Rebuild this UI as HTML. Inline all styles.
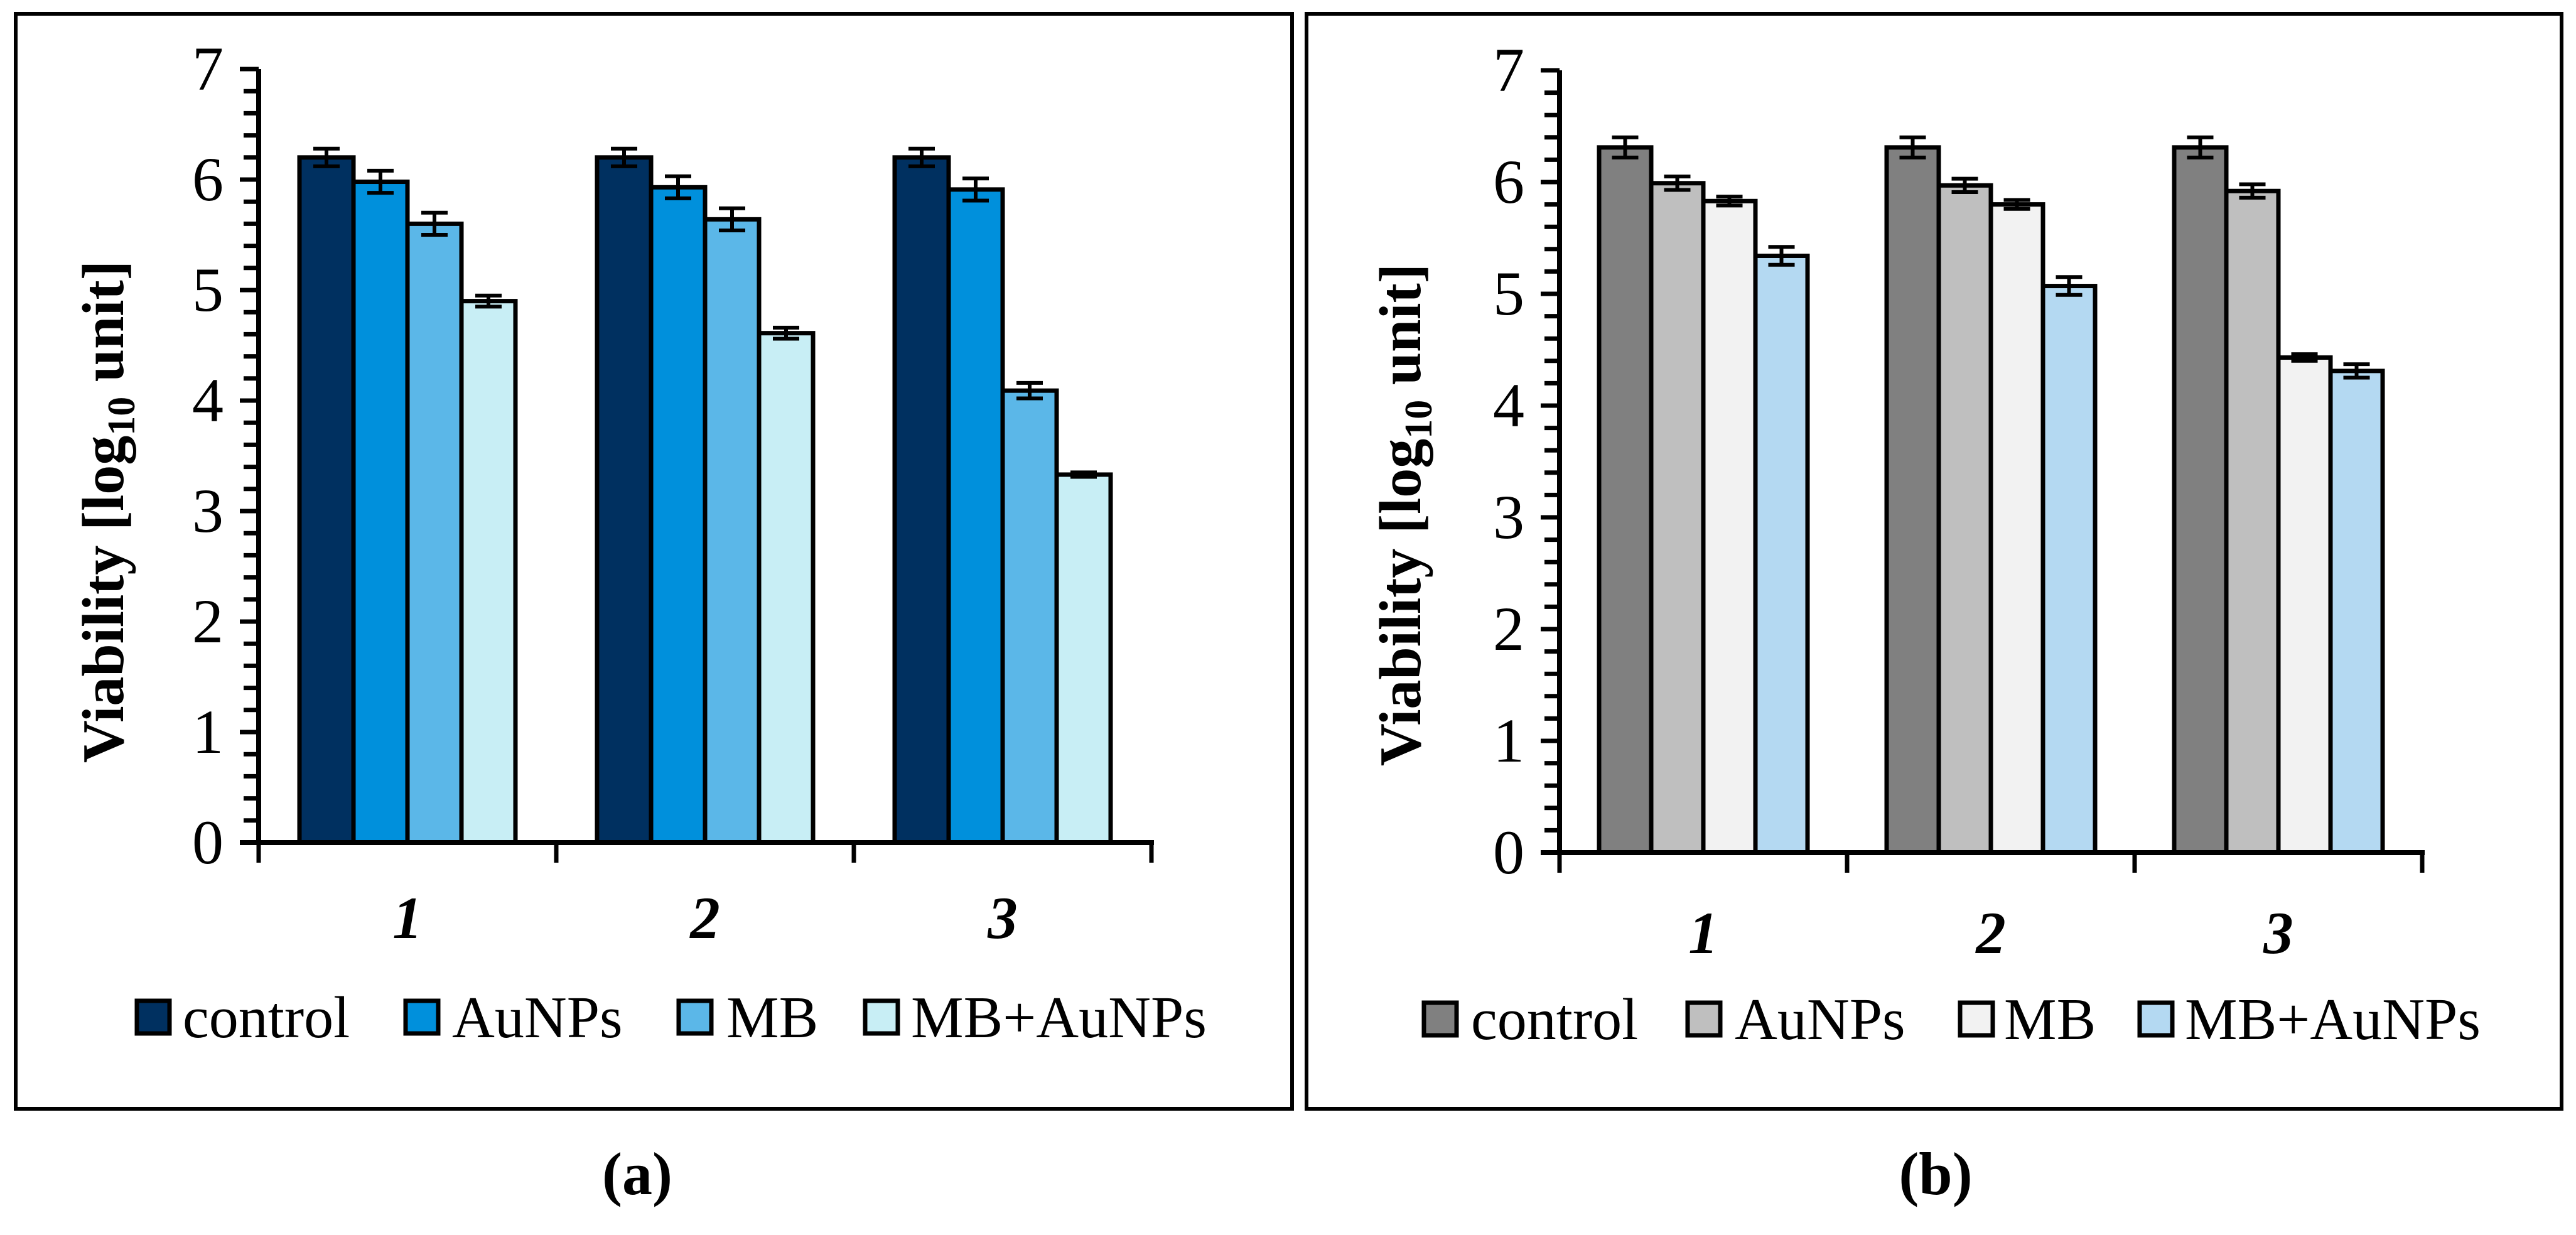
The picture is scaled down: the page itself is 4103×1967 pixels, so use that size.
<!DOCTYPE html>
<html><head><meta charset="utf-8"><style>
html,body{margin:0;padding:0;background:#fff;}
svg{display:block;font-family:"Liberation Serif",serif;}
</style></head><body>
<svg id="fig" width="4103" height="1967" viewBox="0 0 4103 1967" xmlns="http://www.w3.org/2000/svg">
<rect x="0" y="0" width="4103" height="1967" fill="#fff"/>
</svg>
<script>
const categories = ["1","2","3"];
const seriesNames = ["control","AuNPs","MB","MB+AuNPs"];
const yTicks = [0,1,2,3,4,5,6,7];
// panel (a)
const aControl = [6.20,6.20,6.20];
const aAuNPs = [5.98,5.93,5.91];
const aMB = [5.60,5.64,4.09];
const aMBAu = [4.90,4.61,3.33];
const aControlErr = [0.08,0.08,0.08];
const aAuNPsErr = [0.10,0.10,0.10];
const aMBErr = [0.10,0.10,0.07];
const aMBAuErr = [0.05,0.05,0.02];
// panel (b)
const bControl = [6.31,6.31,6.31];
const bAuNPs = [5.99,5.97,5.92];
const bMB = [5.83,5.80,4.43];
const bMBAu = [5.34,5.07,4.31];
const bControlErr = [0.09,0.09,0.09];
const bAuNPsErr = [0.06,0.06,0.06];
const bMBErr = [0.04,0.04,0.03];
const bMBAuErr = [0.08,0.08,0.06];

const NS="http://www.w3.org/2000/svg";
const svg=document.getElementById('fig');
function mk(tag,attrs,parent){const e=document.createElementNS(NS,tag);for(const k in attrs)e.setAttribute(k,attrs[k]);(parent||svg).appendChild(e);return e;}

function panel(cfg){
  const g=mk('g',{});
  
  
  const fr=mk('rect',{x:cfg.frame[0],y:cfg.frame[1],width:cfg.frame[2]-cfg.frame[0],height:cfg.frame[3]-cfg.frame[1],fill:'none',stroke:'#000','stroke-width':6},g);
  
  
  const x0=cfg.ax, y0=cfg.y0, unit=cfg.unit, cw=cfg.cw;
  const yS=v=>y0-v*unit;
  const xC=i=>x0+i*cw;
  for(let v=0;v<=7.0001;v+=0.2){
    const major=Math.abs(v-Math.round(v))<1e-6;
    const t=mk('line',{x1:x0-(major?30:24),x2:x0,y1:yS(v),y2:yS(v),stroke:'#000','stroke-width':7},g);
    
    
  }
  yTicks.forEach(v=>{
    const t=mk('text',{x:x0-56,y:yS(v)+33,'text-anchor':'end','font-size':100,fill:'#000'},g);
    t.textContent=v;
    
    
  });
  const vals=cfg.vals, errs=cfg.errs;
  const bw=cfg.bw;
  categories.forEach((c,i)=>{
    const gx=xC(i)+(cw-4*bw)/2;
    for(let s=0;s<4;s++){
      const v=vals[s][i], e=errs[s][i];
      const bx=gx+s*bw;
      const r=mk('rect',{x:bx,y:yS(v),width:bw,height:yS(0)-yS(v),fill:cfg.colors[s],stroke:'#000','stroke-width':7},g);
      
      
      const cx=bx+bw/2;
      const eb=mk('path',{d:`M${cx},${yS(v+e)}V${yS(v-e)}M${cx-21},${yS(v+e)}H${cx+21}M${cx-21},${yS(v-e)}H${cx+21}`,stroke:'#000','stroke-width':6,fill:'none'},g);
      
      
    }
    const lt=mk('text',{x:xC(i)+cw/2,y:cfg.catY,'text-anchor':'middle','font-size':95,'font-weight':'bold','font-style':'italic',fill:'#000'},g);
    lt.textContent=c;
    
    
  });
  const ya=mk('line',{x1:x0,x2:x0,y1:yS(7),y2:yS(0),stroke:'#000','stroke-width':8},g);
  
  
  const xa=mk('line',{x1:x0-30,x2:xC(3)+4,y1:yS(0),y2:yS(0),stroke:'#000','stroke-width':8},g);
  
  
  for(let i=0;i<=3;i++){
    const t=mk('line',{x1:xC(i),x2:xC(i),y1:yS(0),y2:yS(0)+32,stroke:'#000','stroke-width':7},g);
    
    
  }
  const yt=mk('text',{x:0,y:0,'text-anchor':'middle','font-size':94,'font-weight':'bold',fill:'#000',transform:`translate(${cfg.titleX},${cfg.titleY}) rotate(-90)`},g);
  yt.innerHTML='Viability [log<tspan font-size="62" dy="18">10</tspan><tspan dy="-18"> unit]</tspan>';
  
  
  cfg.legend.forEach((L,s)=>{
    const lg=mk('g',{},g);
    
    
    mk('rect',{x:L[0],y:cfg.legY-27,width:52,height:52,fill:cfg.colors[s],stroke:'#000','stroke-width':7},lg);
    const t=mk('text',{x:L[1],y:cfg.legY+31,'font-size':94,fill:'#000'},lg);
    t.textContent=seriesNames[s];
  });
  const cap=mk('text',{x:cfg.capX,y:1902,'text-anchor':'middle','font-size':96,'font-weight':'bold',fill:'#000'},g);
  cap.textContent=cfg.cap;
  
  
}

panel({id:'panel-a',frame:[25,22,2058,1766],ax:412,y0:1342,unit:176,cw:474,bw:86,
  vals:[aControl,aAuNPs,aMB,aMBAu],errs:[aControlErr,aAuNPsErr,aMBErr,aMBAuErr],
  colors:['#003060','#0090DC','#5BB7E8','#C8EEF5'],catY:1494,titleX:196,titleY:815,
  legend:[[218,291],[646,720],[1081,1157],[1378,1451]],legY:1621,capX:1015,cap:'(a)'});
panel({id:'panel-b',frame:[2081,22,4080,1766],ax:2484,y0:1358,unit:178,cw:458,bw:83,
  vals:[bControl,bAuNPs,bMB,bMBAu],errs:[bControlErr,bAuNPsErr,bMBErr,bMBAuErr],
  colors:['#808080','#BFBFBF','#F2F2F2','#B4D9F2'],catY:1518,titleX:2262,titleY:820,
  legend:[[2268,2343],[2688,2763],[3122,3192],[3408,3480]],legY:1624,capX:3083,cap:'(b)'});
</script>
</body></html>
